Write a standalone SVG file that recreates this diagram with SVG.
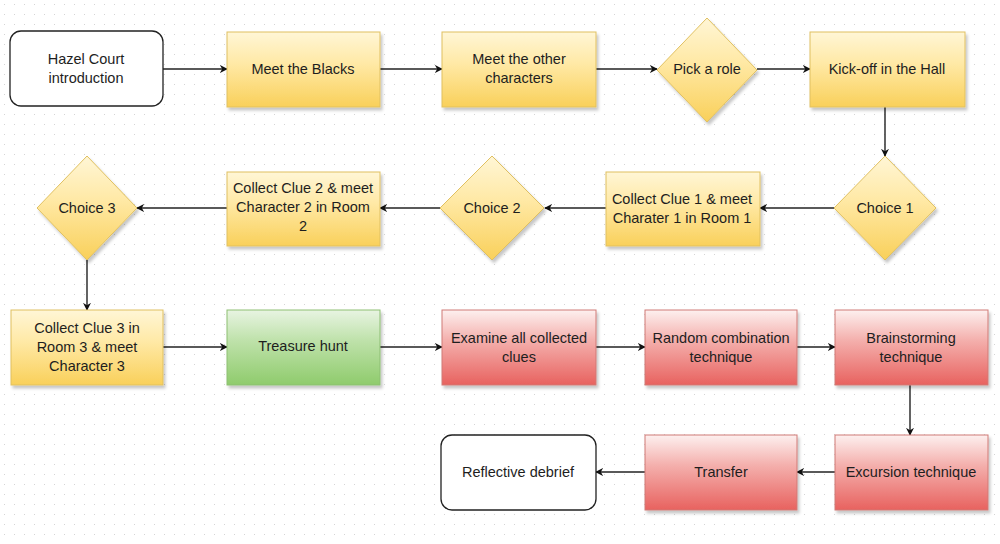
<svg xmlns="http://www.w3.org/2000/svg" width="1000" height="544" viewBox="0 0 1000 544">
<defs>
<pattern id="grid" width="10" height="10" patternUnits="userSpaceOnUse">
<rect x="4" y="4" width="1" height="1" fill="#d4d4d4"/>
</pattern>
<linearGradient id="gY" x1="0" y1="0" x2="0" y2="1">
<stop offset="0" stop-color="#fff6d6"/>
<stop offset="0.42" stop-color="#ffe9a6"/>
<stop offset="1" stop-color="#f9d05a"/>
</linearGradient>
<linearGradient id="gR" x1="0" y1="0" x2="0" y2="1">
<stop offset="0" stop-color="#fdf0ef"/>
<stop offset="0.4" stop-color="#f4b0ad"/>
<stop offset="1" stop-color="#e8625f"/>
</linearGradient>
<linearGradient id="gG" x1="0" y1="0" x2="0" y2="1">
<stop offset="0" stop-color="#e8f4e2"/>
<stop offset="0.4" stop-color="#bfe2ab"/>
<stop offset="1" stop-color="#8fcb6c"/>
</linearGradient>
<filter id="sh" x="-10%" y="-10%" width="130%" height="130%">
<feDropShadow dx="2" dy="3" stdDeviation="1.5" flood-color="#000" flood-opacity="0.22"/>
</filter>
<marker id="arr" viewBox="0 0 10 10" refX="9" refY="5" markerWidth="8" markerHeight="8" markerUnits="userSpaceOnUse" orient="auto">
<path d="M0,0 L10,5 L0,10 L3,5 Z" fill="#111"/>
</marker>
<style>
.t{font-family:"Liberation Sans",Arial,Helvetica,sans-serif;font-size:14.5px;fill:#1e1e1e;text-anchor:middle;dominant-baseline:central}
.w{fill:#ffffff;stroke:#222;stroke-width:1.3}
.y{fill:url(#gY);stroke:#e0c060;stroke-width:1;filter:url(#sh)}
.r{fill:url(#gR);stroke:#d07a76;stroke-width:1;filter:url(#sh)}
.g{fill:url(#gG);stroke:#8dbf73;stroke-width:1;filter:url(#sh)}
.c{stroke:#222;stroke-width:1.4;fill:none;marker-end:url(#arr)}
</style>
</defs>
<rect width="1000" height="544" fill="#ffffff"/>
<rect width="1000" height="544" fill="url(#grid)"/>

<g id="connectors">
<line class="c" x1="163" y1="69" x2="227" y2="69"/>
<line class="c" x1="380" y1="69" x2="442" y2="69"/>
<line class="c" x1="596" y1="69" x2="657" y2="69"/>
<line class="c" x1="757" y1="69" x2="810" y2="69"/>
<line class="c" x1="885" y1="107" x2="885" y2="156"/>
<line class="c" x1="835" y1="208" x2="760" y2="208"/>
<line class="c" x1="606" y1="208" x2="545" y2="208"/>
<line class="c" x1="440" y1="208" x2="380" y2="208"/>
<line class="c" x1="227" y1="208" x2="137" y2="208"/>
<line class="c" x1="87" y1="260" x2="87" y2="310"/>
<line class="c" x1="163" y1="347" x2="227" y2="347"/>
<line class="c" x1="380" y1="347" x2="442" y2="347"/>
<line class="c" x1="596" y1="347" x2="645" y2="347"/>
<line class="c" x1="797" y1="347" x2="835" y2="347"/>
<line class="c" x1="910" y1="385" x2="910" y2="435"/>
<line class="c" x1="835" y1="472" x2="797" y2="472"/>
<line class="c" x1="645" y1="472" x2="596" y2="472"/>
</g>

<g id="hazel">
<rect class="w" x="10" y="31" width="153" height="75" rx="11"/>
<text class="t" x="86" y="59">Hazel Court</text>
<text class="t" x="86" y="78">introduction</text>
</g>
<g id="blacks">
<rect class="y" x="227" y="32" width="153" height="75"/>
<text class="t" x="303" y="69">Meet the Blacks</text>
</g>
<g id="others">
<rect class="y" x="442" y="32" width="154" height="75"/>
<text class="t" x="519" y="59">Meet the other</text>
<text class="t" x="519" y="78">characters</text>
</g>
<g id="pickrole">
<path class="y" d="M707,18 L757,70 L707,122 L657,70 Z"/>
<text class="t" x="707" y="69">Pick a role</text>
</g>
<g id="kickoff">
<rect class="y" x="810" y="32" width="155" height="75"/>
<text class="t" x="887" y="69">Kick-off in the Hall</text>
</g>
<g id="choice1">
<path class="y" d="M885,156 L936,208 L885,260 L834,208 Z"/>
<text class="t" x="885" y="208">Choice 1</text>
</g>
<g id="clue1">
<rect class="y" x="606" y="172" width="154" height="74"/>
<text class="t" x="682" y="199">Collect Clue 1 &amp; meet</text>
<text class="t" x="682" y="218">Charater 1 in Room 1</text>
</g>
<g id="choice2">
<path class="y" d="M492,156 L544,208 L492,260 L440,208 Z"/>
<text class="t" x="492" y="208">Choice 2</text>
</g>
<g id="clue2">
<rect class="y" x="227" y="172" width="153" height="74"/>
<text class="t" x="303" y="188">Collect Clue 2 &amp; meet</text>
<text class="t" x="303" y="207">Character 2 in Room</text>
<text class="t" x="303" y="226">2</text>
</g>
<g id="choice3">
<path class="y" d="M87,156 L137,208 L87,260 L37,208 Z"/>
<text class="t" x="87" y="208">Choice 3</text>
</g>
<g id="clue3">
<rect class="y" x="11" y="310" width="152" height="75"/>
<text class="t" x="87" y="328">Collect Clue 3 in</text>
<text class="t" x="87" y="347">Room 3 &amp; meet</text>
<text class="t" x="87" y="366">Character 3</text>
</g>
<g id="treasure">
<rect class="g" x="227" y="310" width="153" height="75"/>
<text class="t" x="303" y="346">Treasure hunt</text>
</g>
<g id="examine">
<rect class="r" x="442" y="310" width="154" height="75"/>
<text class="t" x="519" y="338">Examine all collected</text>
<text class="t" x="519" y="357">clues</text>
</g>
<g id="random">
<rect class="r" x="645" y="310" width="152" height="75"/>
<text class="t" x="721" y="338">Random combination</text>
<text class="t" x="721" y="357">technique</text>
</g>
<g id="brainstorm">
<rect class="r" x="835" y="310" width="153" height="75"/>
<text class="t" x="911" y="338">Brainstorming</text>
<text class="t" x="911" y="357">technique</text>
</g>
<g id="excursion">
<rect class="r" x="835" y="435" width="153" height="75"/>
<text class="t" x="911" y="472">Excursion technique</text>
</g>
<g id="transfer">
<rect class="r" x="645" y="435" width="152" height="75"/>
<text class="t" x="721" y="472">Transfer</text>
</g>
<g id="debrief">
<rect class="w" x="441" y="435" width="155" height="75" rx="11"/>
<text class="t" x="518" y="472">Reflective debrief</text>
</g>
</svg>
